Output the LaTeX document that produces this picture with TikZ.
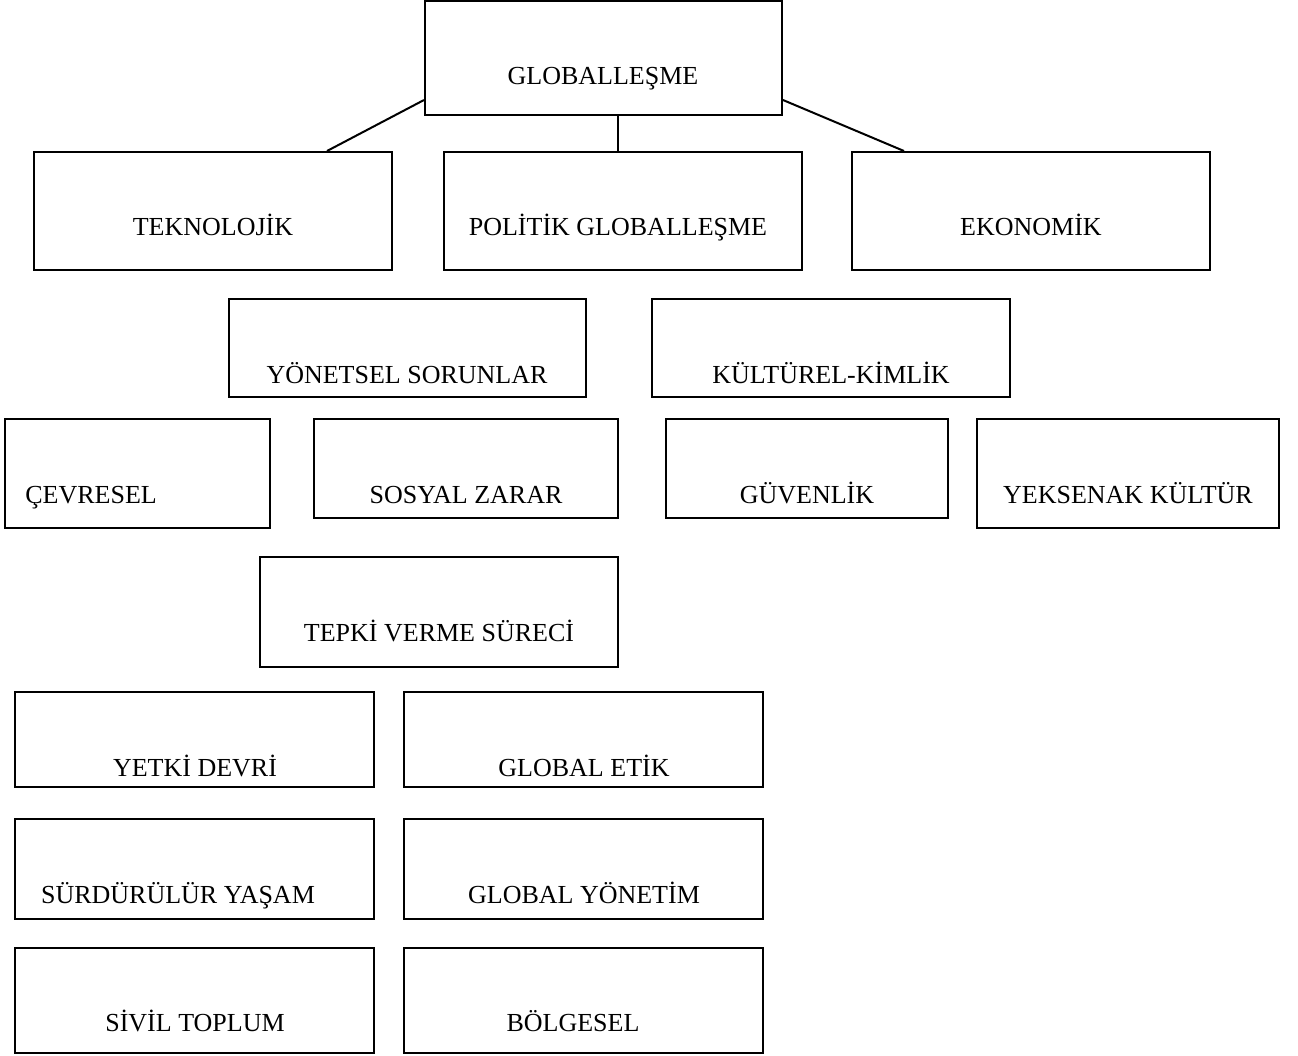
\documentclass[tikz,border=0pt]{standalone}
\usepackage{fontspec}
\setmainfont{Liberation Serif}
\begin{document}
\begin{tikzpicture}[x=0.5pt,y=-0.5pt,
  box/.style={draw=black, line width=1pt, fill=white, inner sep=0pt},
  lbl/.style={anchor=base, inner sep=0pt, font=\fontsize{13}{15}\selectfont},
  link/.style={draw=black, line width=1pt}]
\useasboundingbox (0,0) rectangle (1298,1056);
% boxes: (x1,y1) to (x2,y2)
\newcommand{\bx}[5]{%
  \node[box, minimum width={(#4-#2)*0.5pt}, minimum height={(#5-#3)*0.5pt}]
    (#1) at ({(#2+#4)/2},{(#3+#5)/2}) {};}
\bx{glob}{425}{1}{782}{115}
\bx{tek}{34}{152}{392}{270}
\bx{pol}{444}{152}{802}{270}
\bx{eko}{852}{152}{1210}{270}
\bx{yon}{229}{299}{586}{397}
\bx{kul}{652}{299}{1010}{397}
\bx{cev}{5}{419}{270}{528}
\bx{sos}{314}{419}{618}{518}
\bx{guv}{666}{419}{948}{518}
\bx{yek}{977}{419}{1279}{528}
\bx{tep}{260}{557}{618}{667}
\bx{yet}{15}{692}{374}{787}
\bx{etk}{404}{692}{763}{787}
\bx{sur}{15}{819}{374}{919}
\bx{gyn}{404}{819}{763}{919}
\bx{siv}{15}{948}{374}{1053}
\bx{bol}{404}{948}{763}{1053}
% labels
\node[lbl] (tglob) at (603,84) {GLOBALLEŞME};
\node[lbl] (ttek) at (213,235) {TEKNOLOJİK};
\node[lbl] (tpol) at (618,235) {POLİTİK GLOBALLEŞME};
\node[lbl] (teko) at (1031,235) {EKONOMİK};
\node[lbl] (tyon) at (407,383) {YÖNETSEL SORUNLAR};
\node[lbl] (tkul) at (831,383) {KÜLTÜREL-KİMLİK};
\node[lbl, anchor=base west] (tcev) at (25,503) {ÇEVRESEL};
\node[lbl] (tsos) at (466,503) {SOSYAL ZARAR};
\node[lbl] (tguv) at (807,503) {GÜVENLİK};
\node[lbl] (tyek) at (1128,503) {YEKSENAK KÜLTÜR};
\node[lbl] (ttep) at (439,641) {TEPKİ VERME SÜRECİ};
\node[lbl] (tyet) at (195,776) {YETKİ DEVRİ};
\node[lbl] (tetk) at (584,776) {GLOBAL ETİK};
\node[lbl] (tsur) at (178,903) {SÜRDÜRÜLÜR YAŞAM};
\node[lbl] (tgyn) at (584,903) {GLOBAL YÖNETİM};
\node[lbl] (tsiv) at (195,1031) {SİVİL TOPLUM};
\node[lbl] (tbol) at (573,1031) {BÖLGESEL};
% connectors
\draw[link] (glob.west |- 0,100) -- (tek.north -| 327,0);
\draw[link] (glob.south -| 618,0) -- (pol.north -| 618,0);
\draw[link] (glob.east |- 0,100) -- (eko.north -| 904,0);
\end{tikzpicture}
\end{document}
